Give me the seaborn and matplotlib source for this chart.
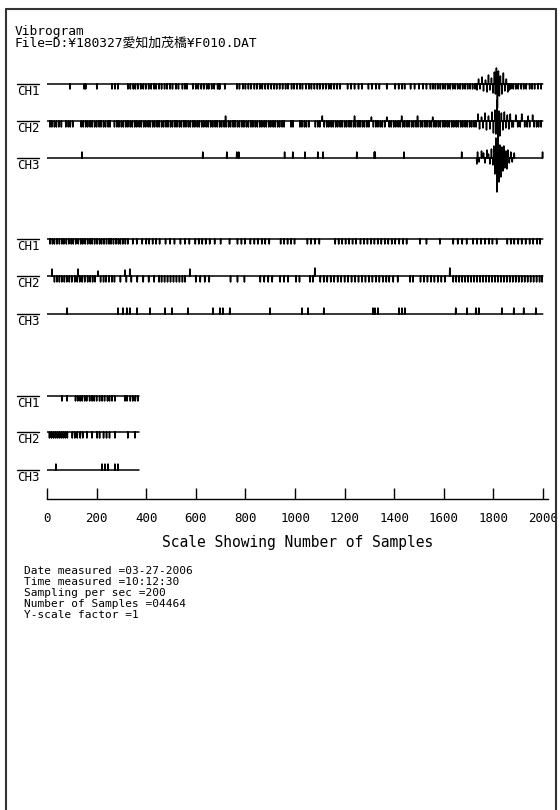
import numpy as np
import pandas as pd
import matplotlib
matplotlib.use("Agg")
import matplotlib.pyplot as plt
import seaborn as sns
from matplotlib.lines import Line2D

# ---------------------------------------------------------------- data
title_lines = ["Vibrogram", "File=D:¥180327愛知加茂橋¥F010.DAT"]
channel_names = ["CH1", "CH2", "CH3"]
x_ticks = [0, 200, 400, 600, 800, 1000, 1200, 1400, 1600, 1800, 2000]
x_tick_labels = ["0", "200", "400", "600", "800", "1000", "1200", "1400",
                 "1600", "1800", "2000"]
x_label = "Scale Showing Number of Samples"
info_lines = ["Date measured =03-27-2006", "Time measured =10:12:30",
              "Sampling per sec =200", "Number of Samples =04464",
              "Y-scale factor =1"]
block_lengths = [2000, 2000, 372]

# block 1 ---------------------------------------------------------------
b1_ch1_ticks = [93, 150, 156, 201, 262, 274, 286, 326, 336, 348, 356, 366, 378, 388,
                398, 410, 420, 432, 440, 452, 462, 474, 484, 496, 506, 520, 530,
                546, 556, 564, 588, 600, 610, 622, 632, 644, 652, 664, 674, 688,
                694, 697, 717, 766, 776, 790, 800, 812, 822, 836, 846, 858, 868,
                880, 892, 904, 916, 926, 938, 950, 962, 972, 986, 996, 1008, 1020,
                1030, 1044, 1056, 1066, 1078, 1090, 1100, 1112, 1124, 1136, 1146,
                1158, 1170, 1182, 1212, 1226, 1240, 1256, 1270, 1296, 1310, 1326,
                1340, 1370, 1404, 1418, 1432, 1442, 1466, 1482, 1500, 1516, 1530,
                1546, 1556, 1566, 1576, 1586, 1596, 1606, 1616, 1626, 1636, 1646,
                1656, 1666, 1676, 1686, 1696, 1706, 1716, 1726, 1870, 1880, 1890,
                1900, 1912, 1922, 1932, 1946, 1956, 1966, 1980, 1992]
b1_ch1_tick_amp = -5
b1_ch1_event_pos = [1734, 1740, 1746, 1754, 1760, 1768, 1774, 1780, 1786, 1792, 1798,
                    1804, 1808, 1812, 1816, 1820, 1824, 1828, 1834, 1840, 1846, 1852,
                    1858, 1864]
b1_ch1_event_amp = [-6, 5, -5, 7, -7, 4, -8, 9, -6, 6, -9, 12, -10, 16, -24, 13,
                    -12, 8, -10, 11, -7, 5, -8, -6]

b1_ch2_ticks = [12, 20, 30, 38, 48, 58, 76, 86, 94, 104, 138, 146, 156, 164, 174,
                182, 192, 200, 210, 218, 228, 236, 246, 254, 272, 282, 290, 300,
                308, 318, 326, 336, 344, 354, 362, 372, 380, 390, 398, 408, 416,
                426, 434, 444, 452, 462, 470, 480, 488, 498, 506, 516, 524, 534,
                542, 552, 560, 570, 578, 588, 596, 606, 614, 624, 632, 642, 650,
                660, 668, 678, 686, 696, 704, 714, 722, 732, 740, 750, 758, 768,
                776, 786, 794, 804, 812, 822, 830, 840, 848, 858, 866, 876, 884,
                894, 902, 912, 920, 930, 938, 948, 956, 984, 992, 1020, 1028, 1038,
                1046, 1056, 1082, 1092, 1100, 1110, 1118, 1128, 1136, 1146, 1154,
                1164, 1172, 1182, 1190, 1200, 1208, 1218, 1226, 1236, 1244, 1254,
                1262, 1272, 1280, 1290, 1298, 1308, 1316, 1326, 1334, 1344, 1352,
                1362, 1370, 1380, 1388, 1398, 1406, 1416, 1424, 1434, 1442, 1452,
                1460, 1470, 1478, 1488, 1496, 1506, 1514, 1524, 1532, 1542, 1550,
                1560, 1568, 1578, 1586, 1596, 1604, 1614, 1622, 1632, 1640, 1650,
                1658, 1668, 1676, 1686, 1694, 1704, 1712, 1722, 1730, 1880, 1898,
                1908, 1926, 1936, 1946, 1964, 1974, 1982, 1992]
b1_ch2_tick_amp = -6
b1_ch2_event_pos = [720, 1110, 1240, 1308, 1370, 1430, 1494, 1555, 1738, 1744, 1752,
                    1758, 1766, 1772, 1780, 1786, 1794, 1800, 1806, 1810, 1814, 1818,
                    1822, 1826, 1832, 1838, 1844, 1850, 1856, 1862, 1868, 1874, 1890,
                    1914, 1940, 1958]
b1_ch2_event_amp = [5, 5, 5, 4, 4, 5, 5, 4, 7, -8, 4, -7, 8, -9, 5, -8, 9, -12, 11,
                    -13, 21, -20, 10, -15, 8, -9, 9, -7, 6, -8, 7, -6, 6, 7, 5, 6]

b1_ch3_ticks = [141, 628, 725, 765, 773, 958, 991, 1040, 1092, 1113, 1249, 1320,
                1323, 1439, 1672, 1998]
b1_ch3_tick_amp = 6
b1_ch3_event_pos = [1733, 1736, 1742, 1752, 1760, 1766, 1774, 1780, 1786, 1792, 1798,
                    1802, 1806, 1810, 1814, 1818, 1822, 1826, 1830, 1834, 1838, 1842,
                    1846, 1850, 1854, 1858, 1864, 1870, 1876, 1884]
b1_ch3_event_amp = [-6, 6, -4, 7, 5, -5, 8, 4, -6, 9, -7, 12, -16, 20, -34, 17, -24,
                    13, -19, 11, -13, 12, -10, 7, -11, 8, -5, 6, -4, 5]

# block 2 ---------------------------------------------------------------
b2_ch1_ticks = [12, 22, 30, 40, 50, 60, 68, 78, 88, 98, 106, 116, 126, 136, 144, 154,
                164, 174, 182, 192, 202, 212, 220, 230, 240, 250, 258, 268, 278,
                288, 296, 306, 316, 326, 346, 362, 384, 400, 412, 426, 440, 454,
                478, 496, 514, 538, 556, 574, 598, 612, 626, 640, 656, 676, 700,
                736, 768, 784, 798, 820, 836, 850, 866, 880, 896, 942, 956, 970,
                984, 998, 1050, 1064, 1080, 1098, 1162, 1176, 1190, 1204, 1218,
                1232, 1246, 1264, 1278, 1292, 1306, 1320, 1334, 1348, 1362, 1376,
                1390, 1404, 1420, 1436, 1450, 1504, 1530, 1584, 1638, 1656, 1674,
                1692, 1718, 1734, 1750, 1766, 1782, 1796, 1813, 1856, 1870, 1884,
                1900, 1914, 1930, 1946, 1960, 1976, 1988]
b2_ch1_tick_amp = -5

b2_ch2_ticks = [30, 40, 50, 60, 70, 80, 90, 100, 112, 122, 132, 142, 152, 164, 174,
                184, 194, 216, 228, 238, 250, 262, 272, 296, 320, 340, 364, 388,
                410, 432, 452, 462, 474, 486, 498, 510, 522, 534, 546, 556, 600,
                618, 636, 654, 740, 768, 796, 860, 876, 892, 908, 940, 956, 972,
                1004, 1018, 1060, 1072, 1102, 1116, 1130, 1144, 1158, 1172, 1186,
                1200, 1214, 1228, 1242, 1256, 1270, 1284, 1298, 1312, 1326, 1340,
                1354, 1368, 1380, 1396, 1414, 1464, 1476, 1506, 1520, 1534, 1548,
                1562, 1576, 1590, 1604, 1638, 1650, 1662, 1674, 1686, 1698, 1710,
                1722, 1734, 1746, 1758, 1770, 1782, 1794, 1806, 1818, 1830, 1842,
                1854, 1866, 1878, 1890, 1902, 1914, 1926, 1938, 1950, 1962, 1974,
                1986, 1996]
b2_ch2_tick_amp = -6
b2_ch2_event_pos = [20, 125, 206, 314, 334, 576, 1080, 1624]
b2_ch2_event_amp = [7, 7, 5, 6, 7, 7, 8, 8]

b2_ch3_ticks = [81, 286, 306, 322, 334, 363, 415, 476, 504, 568, 669, 697, 709, 737,
                899, 1028, 1052, 1116, 1314, 1322, 1334, 1419, 1431, 1443, 1648,
                1693, 1729, 1741, 1834, 1882, 1922, 1971]
b2_ch3_tick_amp = 6

# block 3 ---------------------------------------------------------------
b3_ch1_ticks = [60, 81, 115, 124, 134, 142, 152, 160, 172, 182, 190, 200, 212, 222,
                232, 244, 252, 262, 274, 314, 322, 336, 346, 356, 366]
b3_ch1_tick_amp = -5
b3_ch2_ticks = [10, 18, 26, 34, 42, 50, 58, 66, 74, 82, 102, 112, 122, 134, 144, 161,
                181, 202, 212, 228, 240, 252, 274, 326, 355]
b3_ch2_tick_amp = -6
b3_ch3_ticks = [36, 222, 234, 246, 274, 286]
b3_ch3_tick_amp = 6

blocks = [
    [(b1_ch1_ticks, b1_ch1_tick_amp, b1_ch1_event_pos, b1_ch1_event_amp),
     (b1_ch2_ticks, b1_ch2_tick_amp, b1_ch2_event_pos, b1_ch2_event_amp),
     (b1_ch3_ticks, b1_ch3_tick_amp, b1_ch3_event_pos, b1_ch3_event_amp)],
    [(b2_ch1_ticks, b2_ch1_tick_amp, [], []),
     (b2_ch2_ticks, b2_ch2_tick_amp, b2_ch2_event_pos, b2_ch2_event_amp),
     (b2_ch3_ticks, b2_ch3_tick_amp, [], [])],
    [(b3_ch1_ticks, b3_ch1_tick_amp, [], []),
     (b3_ch2_ticks, b3_ch2_tick_amp, [], []),
     (b3_ch3_ticks, b3_ch3_tick_amp, [], [])],
]

# ---------------------------------------------------------------- layout
W, H = 560, 810
baselines = [[84, 121, 158], [239, 276, 314], [396, 432, 470]]
AXIS_Y = 499

sns.set_theme(style="white")
plt.rcParams["font.family"] = ["DejaVu Sans Mono", "Noto Sans CJK JP"]
plt.rcParams["text.color"] = "black"

fig = plt.figure(figsize=(W / 100, H / 100), dpi=100)
fig.patch.set_facecolor("white")


def fx(x):
    return x / W


def fy(y):
    return 1 - y / H


ax = fig.add_axes([fx(47), fy(AXIS_Y), fx(548) - fx(47), fy(10) - fy(AXIS_Y)])
ax.set_facecolor("none")
ax.set_xlim(0, 2020)
ax.set_ylim(AXIS_Y, 10)

for bi, block in enumerate(blocks):
    n = block_lengths[bi]
    for ci, (ticks, tamp, epos, eamp) in enumerate(block):
        sig = np.zeros(n)
        for p in ticks:
            if p < n:
                sig[p] = tamp
        for p, a in zip(epos, eamp):
            if p < n:
                sig[p] = a
        df = pd.DataFrame({"sample": np.arange(n),
                           "y": baselines[bi][ci] - sig})
        sns.lineplot(data=df, x="sample", y="y", ax=ax, color="black",
                     linewidth=1.1, estimator=None, sort=False, legend=False)
        # channel label with overline
        yb = baselines[bi][ci]
        fig.text(fx(17), fy(yb + 7.5), channel_names[ci], fontsize=9,
                 va="center", ha="left")
        fig.add_artist(Line2D([fx(17), fx(39)], [fy(yb), fy(yb)],
                              color="black", lw=1.0))

for s in ["top", "left", "right"]:
    ax.spines[s].set_visible(False)
ax.spines["bottom"].set_color("black")
ax.spines["bottom"].set_linewidth(1.0)
ax.set_xticks(x_ticks)
ax.set_xticklabels(x_tick_labels)
ax.set_yticks([])
ax.set_xlabel("")
ax.set_ylabel("")
ax.tick_params(axis="x", direction="in", length=8, width=1.0, color="black",
               labelsize=9, pad=9, labelcolor="black", bottom=True)

# titles and texts
fig.text(fx(15), fy(31), title_lines[0], fontsize=9.3, va="center", ha="left")
fig.text(fx(15), fy(43), title_lines[1], fontsize=9.3, va="center", ha="left")
fig.text(fx(298), fy(542), x_label, fontsize=10.5, va="center", ha="center")
fig.text(fx(24), fy(566.5), "\n".join(info_lines), fontsize=8, va="top",
         ha="left", linespacing=1.12)

# page frame (left, top, right)
frame_kw = dict(color="#333333", lw=1.5)
fig.add_artist(Line2D([fx(6), fx(6)], [fy(9), 0], **frame_kw))
fig.add_artist(Line2D([fx(6), fx(556)], [fy(9), fy(9)], **frame_kw))
fig.add_artist(Line2D([fx(556), fx(556)], [fy(9), 0], **frame_kw))

fig.savefig("out.png", dpi=100, facecolor="white")
